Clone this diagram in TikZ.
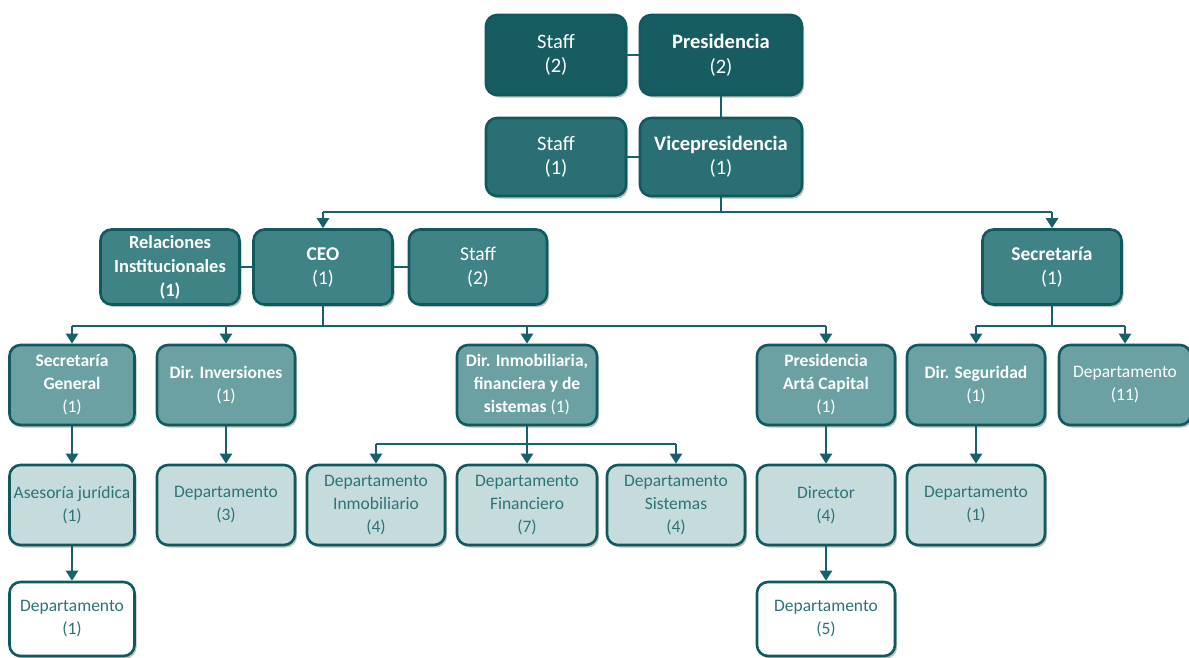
\documentclass[tikz,border=0pt]{standalone}
\usepackage{fontspec}
\setmainfont{Carlito}
\usetikzlibrary{arrows.meta,shadows}
\definecolor{bord}{HTML}{0F5A5E}
\definecolor{cA}{HTML}{165C61}
\definecolor{cB}{HTML}{2A6F73}
\definecolor{cC}{HTML}{3F8387}
\definecolor{cD}{HTML}{6CA1A3}
\definecolor{cE}{HTML}{C6DCDC}
\definecolor{cF}{HTML}{FFFFFF}
\definecolor{tl}{HTML}{2D7377}
\definecolor{ln}{HTML}{17626A}
\begin{document}
\begin{tikzpicture}[x=1pt,y=1pt,
  font=\fontsize{17.5}{23}\selectfont,
  box/.style={draw=bord, line width=2.6pt, rounded corners=11pt, align=center,
    inner sep=1pt, text=white,
    drop shadow={shadow xshift=2pt, shadow yshift=-2.5pt, opacity=0.25, fill=black}},
  lA/.style={box, fill=cA, minimum height=80pt, font=\fontsize{20.5}{24.5}\selectfont},
  lB/.style={box, fill=cB, minimum height=78pt, font=\fontsize{20.5}{24}\selectfont},
  lC/.style={box, fill=cC, minimum height=75pt, minimum width=139pt, font=\fontsize{18.5}{24}\selectfont},
  lD/.style={box, fill=cD, minimum height=80pt, minimum width=138pt},
  lE/.style={box, fill=cE, text=tl, minimum height=80pt, minimum width=138pt},
  lF/.style={box, fill=cF, text=tl, minimum height=74pt, minimum width=138pt},
  conn/.style={draw=ln, line width=2.2pt},
  arr/.style={conn, -{Triangle[width=12pt,length=10pt]}}
]
\useasboundingbox (0,0) rectangle (1189,-657);
% level A
\node[lA, minimum width=140pt] (staffA) at (556,-55) {Staff\\(2)};
\node[lA, minimum width=162pt] (pres) at (721,-55) {\textbf{Presidencia}\\(2)};
% level B
\node[lB, minimum width=140pt] (staffB) at (556,-157) {Staff\\(1)};
\node[lB, minimum width=162pt] (vice) at (721,-157) {\textbf{Vicepresidencia}\\(1)};
% level C
\node[lC] (rel) at (170,-267) {\textbf{Relaciones}\\\textbf{Institucionales}\\\textbf{(1)}};
\node[lC, font=\fontsize{19.5}{24}\selectfont] (ceo) at (323,-267) {\textbf{CEO}\\(1)};
\node[lC, minimum width=138pt, font=\fontsize{19.5}{24}\selectfont] (staffC) at (478,-267) {Staff\\(2)};
\node[lC, font=\fontsize{19.5}{24}\selectfont] (sec) at (1052,-267) {\textbf{Secretaría}\\(1)};
% level D
\node[lD, minimum width=125pt] (sg) at (72,-385) {\textbf{Secretaría}\\\textbf{General}\\(1)};
\node[lD] (dinv) at (226,-385) {\textbf{Dir. Inversiones}\\(1)};
\node[lD, minimum width=140pt] (dinm) at (527,-385) {\textbf{Dir. Inmobiliaria,}\\\textbf{financiera y de}\\\textbf{sistemas} (1)};
\node[lD] (pac) at (826,-385) {\textbf{Presidencia}\\\textbf{Artá Capital}\\(1)};
\node[lD] (dseg) at (976,-385) {\textbf{Dir. Seguridad}\\(1)};
\node[lD, minimum width=132pt] (dep11) at (1125,-385) {Departamento\\(11)};
% level E
\node[lE, minimum width=125pt] (ases) at (72,-505) {Asesoría jurídica\\(1)};
\node[lE] (dep3) at (226,-505) {Departamento\\(3)};
\node[lE] (dinmob) at (376,-505) {Departamento\\Inmobiliario\\(4)};
\node[lE, minimum width=140pt] (dfin) at (527,-505) {Departamento\\Financiero\\(7)};
\node[lE] (dsis) at (676,-505) {Departamento\\Sistemas\\(4)};
\node[lE] (dir) at (826,-505) {Director\\(4)};
\node[lE] (dep1b) at (976,-505) {Departamento\\(1)};
% level F
\node[lF, minimum width=125pt] (dep1) at (72,-619) {Departamento\\(1)};
\node[lF] (dep5) at (826,-619) {Departamento\\(5)};
% buses
\coordinate (b1) at (0,-212);
\coordinate (b2) at (0,-326);
\coordinate (b3) at (0,-444);
% connectors
\draw[conn] (staffA) -- (pres);
\draw[conn] (staffB) -- (vice);
\draw[conn] (pres.south) -- (vice.north);
\draw[conn] (vice.south) -- (vice.south |- b1);
\draw[conn] (ceo.north |- b1) -- (sec.north |- b1);
\draw[arr] (ceo.north |- b1) -- (ceo.north);
\draw[arr] (sec.north |- b1) -- (sec.north);
\draw[conn] (rel) -- (ceo);
\draw[conn] (ceo) -- (staffC);
\draw[conn] (ceo.south) -- (ceo.south |- b2);
\draw[conn] (sg.north |- b2) -- (pac.north |- b2);
\draw[arr] (sg.north |- b2) -- (sg.north);
\draw[arr] (dinv.north |- b2) -- (dinv.north);
\draw[arr] (dinm.north |- b2) -- (dinm.north);
\draw[arr] (pac.north |- b2) -- (pac.north);
\draw[conn] (sec.south) -- (sec.south |- b2);
\draw[conn] (dseg.north |- b2) -- (dep11.north |- b2);
\draw[arr] (dseg.north |- b2) -- (dseg.north);
\draw[arr] (dep11.north |- b2) -- (dep11.north);
\draw[arr] (sg) -- (ases);
\draw[arr] (dinv) -- (dep3);
\draw[conn] (dinm.south) -- (dinm.south |- b3);
\draw[conn] (dinmob.north |- b3) -- (dsis.north |- b3);
\draw[arr] (dinmob.north |- b3) -- (dinmob.north);
\draw[arr] (dfin.north |- b3) -- (dfin.north);
\draw[arr] (dsis.north |- b3) -- (dsis.north);
\draw[arr] (pac) -- (dir);
\draw[arr] (dseg) -- (dep1b);
\draw[arr] (ases) -- (dep1);
\draw[arr] (dir) -- (dep5);
\end{tikzpicture}
\end{document}
